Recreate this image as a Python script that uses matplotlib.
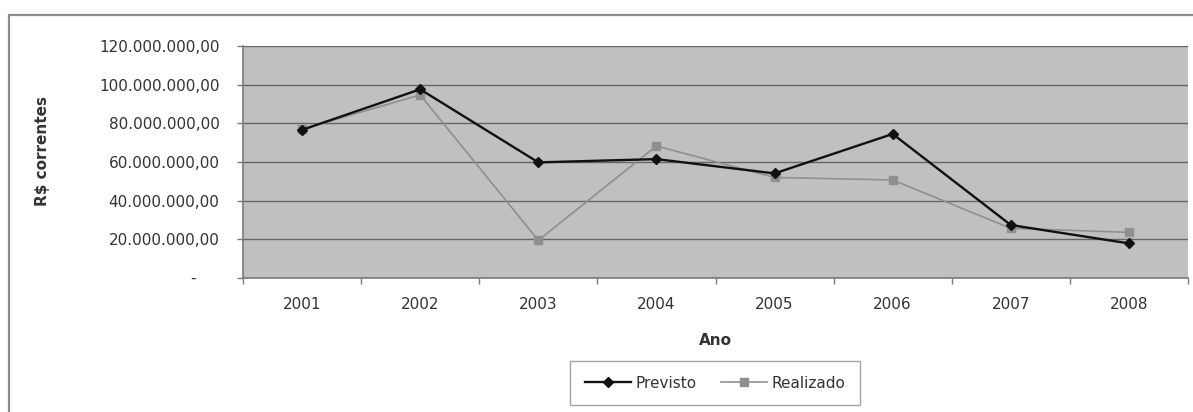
import matplotlib.pyplot as plt
from matplotlib.patches import Rectangle
from matplotlib.ticker import FuncFormatter

anos = ['2001', '2002', '2003', '2004', '2005', '2006', '2007', '2008']
previsto = [76.6e6, 97.6e6, 59.8e6, 61.5e6, 54.1e6, 74.5e6, 27.4e6, 17.9e6]
realizado = [77.0e6, 94.7e6, 19.5e6, 68.3e6, 52.0e6, 50.7e6, 25.7e6, 23.6e6]
y_ticks = [0, 20e6, 40e6, 60e6, 80e6, 100e6, 120e6]

plt.rcParams['font.family'] = ['DejaVu Sans']
txt = '#333333'
fs = 11

fig = plt.figure(figsize=(11.93, 4.12), dpi=100)
fig.patch.set_facecolor('white')

# moldura externa do grafico
fig.patches.append(Rectangle((9 / 1193, -0.2), 1.2, 0.2 + 1 - 15 / 412,
                             transform=fig.transFigure, fill=False,
                             edgecolor='#8c8c8c', linewidth=1.6))

ax = fig.add_axes([243 / 1193, 1 - 278 / 412, 945 / 1193, 232 / 412])
ax.set_facecolor('#c0c0c0')

x = list(range(len(anos)))
ax.plot(x, previsto, color='#111111', lw=1.7, marker='D', ms=5.5,
        label='Previsto', zorder=4)
ax.plot(x, realizado, color='#8f8f8f', lw=1.2, marker='s', ms=6,
        label='Realizado', zorder=3)

ax.set_xlim(-0.5, len(anos) - 0.5)
ax.set_ylim(0, 120e6)
ax.set_yticks(y_ticks)


def fmt(v, pos):
    if v == 0:
        return ''
    s = '{:,.2f}'.format(v)
    return s.replace(',', 'X').replace('.', ',').replace('X', '.')


ax.yaxis.set_major_formatter(FuncFormatter(fmt))
ax.annotate('-', xy=(0, 0), xycoords=('axes fraction', 'data'),
            xytext=(-34, 0), textcoords='offset points', ha='right',
            va='center', fontsize=fs, color=txt)

ax.yaxis.grid(True, color='#666666', lw=1.0)
ax.set_axisbelow(True)

ax.set_xticks(x)
ax.set_xticklabels(anos)
ax.set_xticks([i - 0.5 for i in range(len(anos) + 1)], minor=True)
ax.tick_params(axis='x', which='major', length=0, pad=14,
               labelsize=fs, labelcolor=txt)
ax.tick_params(axis='x', which='minor', length=4, width=1,
               color='#7a7a7a', direction='out')
ax.tick_params(axis='y', length=4, width=1, color='#7a7a7a', pad=13,
               labelsize=fs, labelcolor=txt)

for side in ['top', 'right']:
    ax.spines[side].set_visible(False)
for side in ['left', 'bottom']:
    ax.spines[side].set_color('#7a7a7a')
    ax.spines[side].set_linewidth(1.2)

ax.set_xlabel('Ano', fontsize=fs, fontweight='bold', color=txt, labelpad=15)
fig.text(42 / 1193, 1 - 151 / 412, 'R$ correntes', rotation=90,
         ha='center', va='center', fontsize=fs, fontweight='bold', color=txt)

leg = fig.legend(loc='upper center', bbox_to_anchor=(715 / 1193, 1 - 361 / 412),
                 ncol=2, frameon=True, fancybox=False, fontsize=fs,
                 handlelength=3, columnspacing=1.6, handletextpad=0.3,
                 borderpad=0.95, borderaxespad=0, labelcolor=txt)
leg.get_frame().set_edgecolor('#8c8c8c')
leg.get_frame().set_linewidth(1.0)

fig.savefig('out.png', dpi=100)
